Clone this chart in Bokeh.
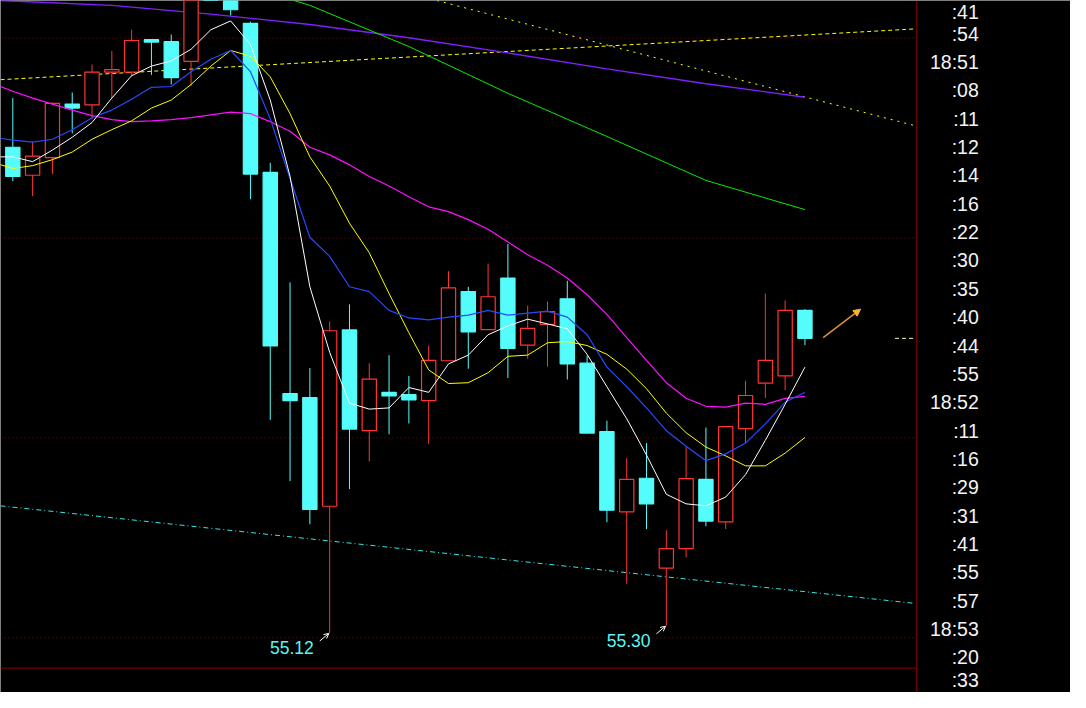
from bokeh.plotting import figure
from bokeh.models import Range1d, Span, Arrow, OpenHead, NormalHead, ColumnDataSource
from bokeh.core.properties import value
from bokeh.embed import file_html
from bokeh.resources import INLINE

# ---------------- data ----------------
opens = [67.27, 66.57, 67.01, 68.35, 68.33, 69.15, 69.15, 69.96, 69.91, 69.42,
         71.60, 71.43, 70.37, 66.64, 61.11, 61.01, 58.29, 62.70, 60.18, 61.14,
         61.08, 60.93, 61.93, 63.66, 62.71, 64.00, 62.32, 62.84, 63.48, 61.87,
         60.16, 58.15, 58.99, 56.74, 57.23, 58.96, 57.90, 60.23, 61.37, 61.55,
         63.19]
highs = [68.50, 67.41, 68.39, 68.64, 69.34, 69.68, 70.21, 69.97, 70.09, 71.55,
         71.80, 71.55, 70.41, 66.88, 63.89, 61.75, 62.91, 63.34, 61.87, 62.07,
         61.55, 62.31, 64.17, 63.78, 64.36, 64.85, 63.31, 63.41, 63.93, 62.06,
         60.43, 59.49, 59.87, 57.69, 59.78, 60.26, 60.28, 61.43, 63.61, 63.44,
         63.22]
lows = [66.42, 66.05, 66.60, 67.62, 67.97, 68.50, 69.04, 69.08, 68.84, 68.80,
        71.05, 70.57, 65.97, 60.45, 58.92, 57.84, 55.12, 58.72, 59.41, 60.09,
        60.36, 59.85, 61.93, 61.73, 62.71, 61.50, 61.98, 61.78, 61.46, 60.12,
        57.89, 56.35, 57.72, 55.30, 57.01, 57.79, 57.72, 59.87, 61.00, 61.19,
        62.32]
closes = [66.54, 67.05, 68.37, 68.25, 69.15, 69.21, 69.94, 69.90, 69.01, 71.31,
          71.20, 70.71, 66.60, 62.30, 60.93, 58.21, 62.68, 60.22, 61.47, 61.05,
          60.95, 61.94, 63.75, 62.65, 63.53, 62.24, 62.74, 63.16, 61.85, 60.12,
          58.19, 58.96, 58.35, 57.23, 58.98, 57.92, 60.28, 61.06, 61.94, 63.19,
          62.49]

# moving-average curves, one value per bar (first value = bar just off the left edge)
ma_x = list(range(-1, 41))
ma_white = [67.03, 67.03, 66.91, 67.20, 67.52, 67.89, 68.50, 69.06, 69.30, 69.43, 69.72,
            70.21, 70.43, 69.84, 68.45, 66.54, 63.78, 62.14, 60.87, 60.72, 60.75,
            61.26, 61.14, 61.85, 62.07, 62.58, 62.80, 62.97, 62.85, 62.73, 62.09,
            61.28, 60.48, 59.57, 58.59, 58.35, 58.30, 58.52, 59.08, 59.94, 60.84,
            61.77]
ma_blue = [67.52, 67.45, 67.40, 67.47, 67.71, 68.01, 68.20, 68.47, 68.77, 68.79, 69.16,
           69.47, 69.69, 69.16, 67.98, 66.49, 65.02, 64.54, 63.78, 63.66, 63.19,
           63.00, 62.95, 63.02, 63.07, 63.19, 63.07, 63.12, 63.17, 63.02, 62.58,
           61.77, 61.28, 60.75, 60.18, 59.79, 59.43, 59.60, 59.87, 60.35, 60.89,
           61.14]
ma_yellow = [66.89, 66.74, 66.81, 66.96, 67.15, 67.47, 67.71, 67.93, 68.25, 68.45, 68.84,
             69.30, 69.69, 69.55, 69.03, 68.11, 67.03, 66.30, 65.37, 64.63, 63.61,
             62.63, 61.70, 61.36, 61.38, 61.63, 62.04, 62.07, 62.38, 62.41, 62.31,
             62.09, 61.72, 61.23, 60.62, 60.13, 59.77, 59.55, 59.30, 59.30, 59.62,
             60.01]
ma_magenta = [68.86, 68.67, 68.50, 68.35, 68.20, 68.06, 67.96, 67.91, 67.93, 67.96, 68.01,
              68.08, 68.15, 68.11, 67.91, 67.67, 67.27, 67.08, 66.83, 66.54, 66.30,
              66.03, 65.78, 65.66, 65.46, 65.22, 64.90, 64.58, 64.32, 64.00, 63.58,
              63.09, 62.51, 61.94, 61.38, 60.99, 60.79, 60.77, 60.87, 60.84, 60.99,
              61.04]

# long averages, read every fifth bar
purple_x = [-1, 5, 10, 15, 20, 25, 30, 35, 40]
purple_y = [70.95, 70.82, 70.60, 70.34, 70.01, 69.63, 69.23, 68.86, 68.52]
green_x = [14, 15, 20, 25, 30, 35, 40]
green_y = [70.97, 70.82, 69.79, 68.62, 67.54, 66.44, 65.71]

# drawn trend lines (bar index, price)
trend_up_x, trend_up_y = [-0.62, 45.55], [68.96, 70.23]
trend_down_x, trend_down_y = [21.42, 45.55], [70.94, 67.81]
channel_x, channel_y = [-0.62, 45.55], [58.30, 55.86]
forecast_x, forecast_y = [40.92, 42.81], [62.51, 63.22]

grid_levels = [55, 60, 65, 70]
pane_bottom = 54.24
low_marks = [16, 33]

time_labels = [":41", ":54", "18:51", ":08", ":11", ":12", ":14", ":16", ":22",
               ":30", ":35", ":40", ":44", ":55", "18:52", ":11", ":16", ":29",
               ":31", ":41", ":55", ":57", "18:53", ":20", ":33"]

# ---------------- figure ----------------
X0, X1 = -0.622, 53.41
XSEP, XEND = 45.65, 45.55
UP, DOWN = "#ff3434", "#54fcfc"

p = figure(width=1070, height=692, x_range=Range1d(X0, X1), y_range=Range1d(53.631, 70.941),
           output_backend="svg", toolbar_location=None, x_axis_location=None,
           y_axis_location=None, background_fill_color="black",
           border_fill_color="black", outline_line_color=None, min_border=0)
p.grid.visible = False
p.extra_y_ranges = {"t": Range1d(start=24.241, end=-0.1724)}

# dotted horizontal grid and pane frame
p.segment(x0=X0, x1=XEND, y0=grid_levels, y1=grid_levels, line_color="#900000",
          line_dash="1 3", line_width=1)
p.segment(x0=X0, x1=XSEP, y0=pane_bottom, y1=pane_bottom, line_color="#8b0000", line_width=1)
p.add_layout(Span(location=XSEP, dimension="height", line_color="#a00000", line_width=1))

# trend lines
p.line(trend_up_x, trend_up_y, line_color="#ffff00", line_dash="4 3", line_width=1)
p.line(trend_down_x, trend_down_y, line_color="#ffff00", line_dash="2 5", line_width=1)
p.line(channel_x, channel_y, line_color="#30e8e8", line_dash="5 3 1 3", line_width=1)

# long averages
p.line(purple_x, purple_y, line_color="#8020ff", line_width=1.4)
p.line(green_x, green_y, line_color="#00ee00", line_width=1)

# candles
n = len(closes)
xs = list(range(n))
colors = [UP if c >= o else DOWN for o, c in zip(opens, closes)]
fills = ["black" if c >= o else DOWN for o, c in zip(opens, closes)]
src = ColumnDataSource(dict(x=xs, h=highs, l=lows,
                            top=[max(o, c) for o, c in zip(opens, closes)],
                            bottom=[min(o, c) for o, c in zip(opens, closes)],
                            color=colors, fill=fills))
p.segment(x0="x", y0="h", x1="x", y1="l", line_color="color", line_width=1, source=src)
p.vbar(x="x", width=0.72, top="top", bottom="bottom", fill_color="fill",
       line_color="color", line_width=1.2, source=src)

# short averages
p.line(ma_x, ma_magenta, line_color="#ff10ff", line_width=1.2)
p.line(ma_x, ma_yellow, line_color="#ffff00", line_width=1)
p.line(ma_x, ma_blue, line_color="#2848ff", line_width=1.2)
p.line(ma_x, ma_white, line_color="#ffffff", line_width=1)

# last price marker at the right edge
p.segment(x0=XEND - 1.0, x1=XEND, y0=closes[-1], y1=closes[-1], line_color="#f4f4c0",
          line_dash="4 3", line_width=1)

# forecast arrow
p.add_layout(Arrow(end=NormalHead(size=7, fill_color="#ffb030", line_color="#ffb030"),
                   x_start=forecast_x[0], y_start=forecast_y[0],
                   x_end=forecast_x[1], y_end=forecast_y[1],
                   line_color="#d89434", line_width=1.5))

# low annotations
for i in low_marks:
    p.add_layout(Arrow(end=OpenHead(size=5, line_color="white", line_width=1),
                       x_start=i - 0.5, y_start=lows[i] - 0.2,
                       x_end=i - 0.04, y_end=lows[i] - 0.01,
                       line_color="white", line_width=1))
p.text(x=[i - 0.8 for i in low_marks], y=[lows[i] - 0.36 for i in low_marks],
       text=[f"{lows[i]:.2f}" for i in low_marks], text_align="right",
       text_baseline="middle", text_color="#5cf4f4",
       text_font=value("Liberation Sans"), text_font_size="17.5px")

# time labels on the right strip (kept fully inside the page)
label_pos = [min(max(i, 0.25), len(time_labels) - 1.2) for i in range(len(time_labels))]
p.text(x=[48.78] * len(time_labels), y=label_pos, text=time_labels,
       y_range_name="t", text_align="right", text_baseline="middle",
       text_color="#f4f4f4", text_font=value("Liberation Sans"), text_font_size="19.5px")

open("out.html", "w").write(file_html(p, INLINE))
